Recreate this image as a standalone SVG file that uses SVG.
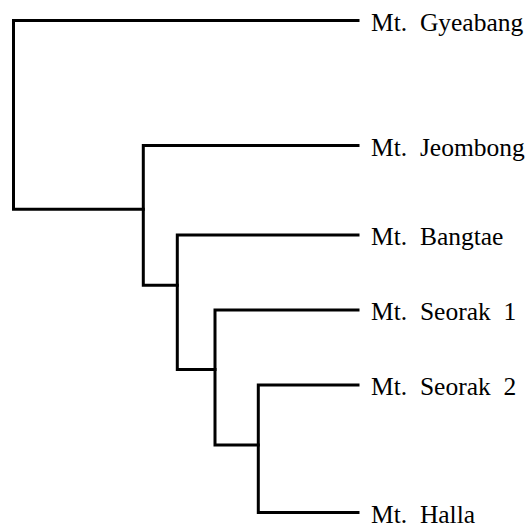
<svg xmlns="http://www.w3.org/2000/svg" width="532" height="528" viewBox="0 0 532 528">
<style>
.e{fill:none;stroke:#000;stroke-width:3;stroke-linecap:square;stroke-linejoin:miter}
.t{font-family:"Liberation Serif","Times New Roman",Times,serif;font-size:25.5px;fill:#000}
</style>
<rect width="532" height="528" fill="#fff"/>
<g id="connectors">
<path class="e" d="M358,20.5 H13.5 V209.3 H143.3"/>
<path class="e" d="M358,145.5 H143.3 V285.3 H177.3"/>
<path class="e" d="M358,235 H177.3 V369.5 H215"/>
<path class="e" d="M358,310 H215 V445 H258.3"/>
<path class="e" d="M358,385 H258.3 V512.5 H358"/>
</g>
<g id="leaf-gyeabang"><text class="t" x="371" y="30.5" xml:space="preserve">Mt.  Gyeabang</text></g>
<g id="leaf-jeombong"><text class="t" x="371" y="155.5" xml:space="preserve">Mt.  Jeombong</text></g>
<g id="leaf-bangtae"><text class="t" x="371" y="245" xml:space="preserve">Mt.  Bangtae</text></g>
<g id="leaf-seorak1"><text class="t" x="371" y="320" xml:space="preserve">Mt.  Seorak  1</text></g>
<g id="leaf-seorak2"><text class="t" x="371" y="395" xml:space="preserve">Mt.  Seorak  2</text></g>
<g id="leaf-halla"><text class="t" x="371" y="522.5" xml:space="preserve">Mt.  Halla</text></g>
</svg>
